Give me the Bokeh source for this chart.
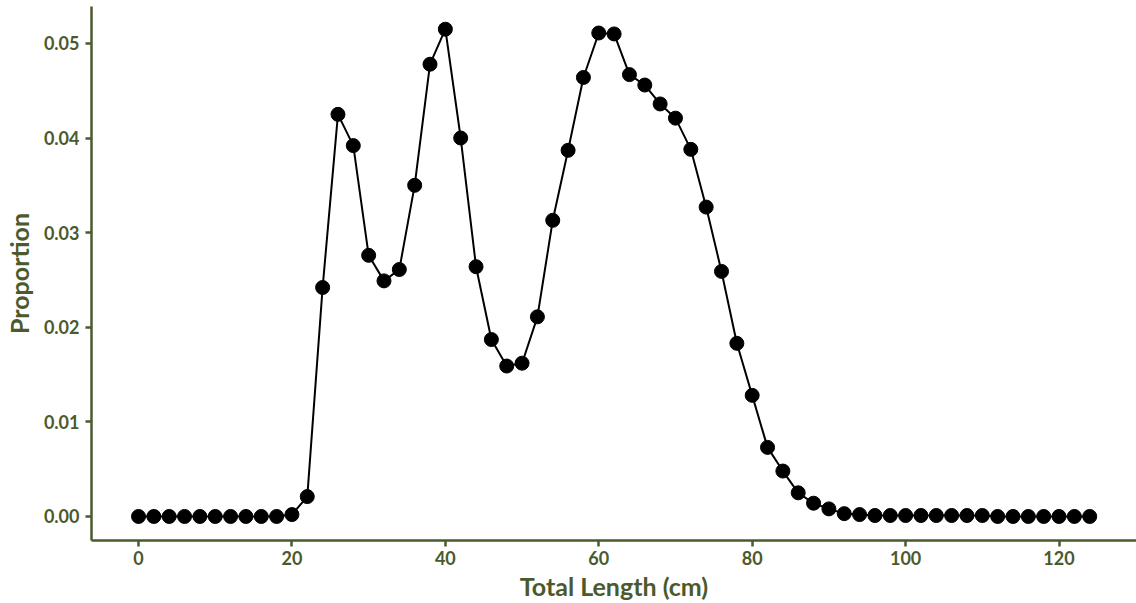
from bokeh.plotting import figure
from bokeh.models import FixedTicker, NumeralTickFormatter, Range1d
from bokeh.embed import file_html
from bokeh.resources import INLINE

lengths = list(range(0, 126, 2))
proportion = [0, 0, 0, 0, 0, 0, 0, 0, 0, 0,
              0.0002, 0.0021, 0.0242, 0.0425, 0.0392, 0.0276, 0.0249, 0.0261, 0.0350, 0.0478,
              0.0515, 0.0400, 0.0264, 0.0187, 0.0159, 0.0162, 0.0211, 0.0313, 0.0387, 0.0464,
              0.0511, 0.0510, 0.0467, 0.0456, 0.0436, 0.0421, 0.0388, 0.0327, 0.0259, 0.0183,
              0.0128, 0.0073, 0.0048, 0.0025, 0.0014, 0.0008, 0.0003, 0.0002, 0.0001, 0.0001,
              0.0001, 0.0001, 0.0001, 0.0001, 0.0001, 0.0001, 0, 0, 0, 0,
              0, 0, 0]
x_ticks = [0, 20, 40, 60, 80, 100, 120]
y_ticks = [0.0, 0.01, 0.02, 0.03, 0.04, 0.05]

axis_col = "#4b5a2c"

p = figure(width=1136, height=603, output_backend="svg", toolbar_location=None,
           x_range=Range1d(-6.13, 130.1), y_range=Range1d(-0.00254, 0.0539),
           min_border_left=91, min_border_right=0, min_border_top=6, min_border_bottom=60)
p.outline_line_color = None
p.grid.visible = False

p.line(lengths, proportion, line_color="black", line_width=2)
p.scatter(lengths, proportion, size=14, fill_color="black", line_color="black")

for ax in (p.xaxis[0], p.yaxis[0]):
    ax.axis_line_color = axis_col
    ax.axis_line_width = 2.5
    ax.major_tick_line_color = axis_col
    ax.major_tick_line_width = 2.5
    ax.major_tick_out = 6
    ax.major_tick_in = 0
    ax.minor_tick_line_color = None
    ax.major_label_text_color = axis_col
    ax.major_label_text_font = "Lato"
    ax.major_label_text_font_style = "bold"
    ax.major_label_text_font_size = "18px"
    ax.axis_label_text_color = axis_col
    ax.axis_label_text_font = "Lato"
    ax.axis_label_text_font_style = "bold"
    ax.axis_label_text_font_size = "25px"

p.xaxis.ticker = FixedTicker(ticks=x_ticks)
p.yaxis.ticker = FixedTicker(ticks=y_ticks)
p.yaxis.formatter = NumeralTickFormatter(format="0.00")
p.xaxis.axis_label = "Total Length (cm)"
p.yaxis.axis_label = "Proportion"
p.xaxis.major_label_standoff = 4
p.yaxis.major_label_standoff = 6
p.xaxis.axis_label_standoff = 3
p.yaxis.axis_label_standoff = 7

open("out.html", "w").write(file_html(p, INLINE))
